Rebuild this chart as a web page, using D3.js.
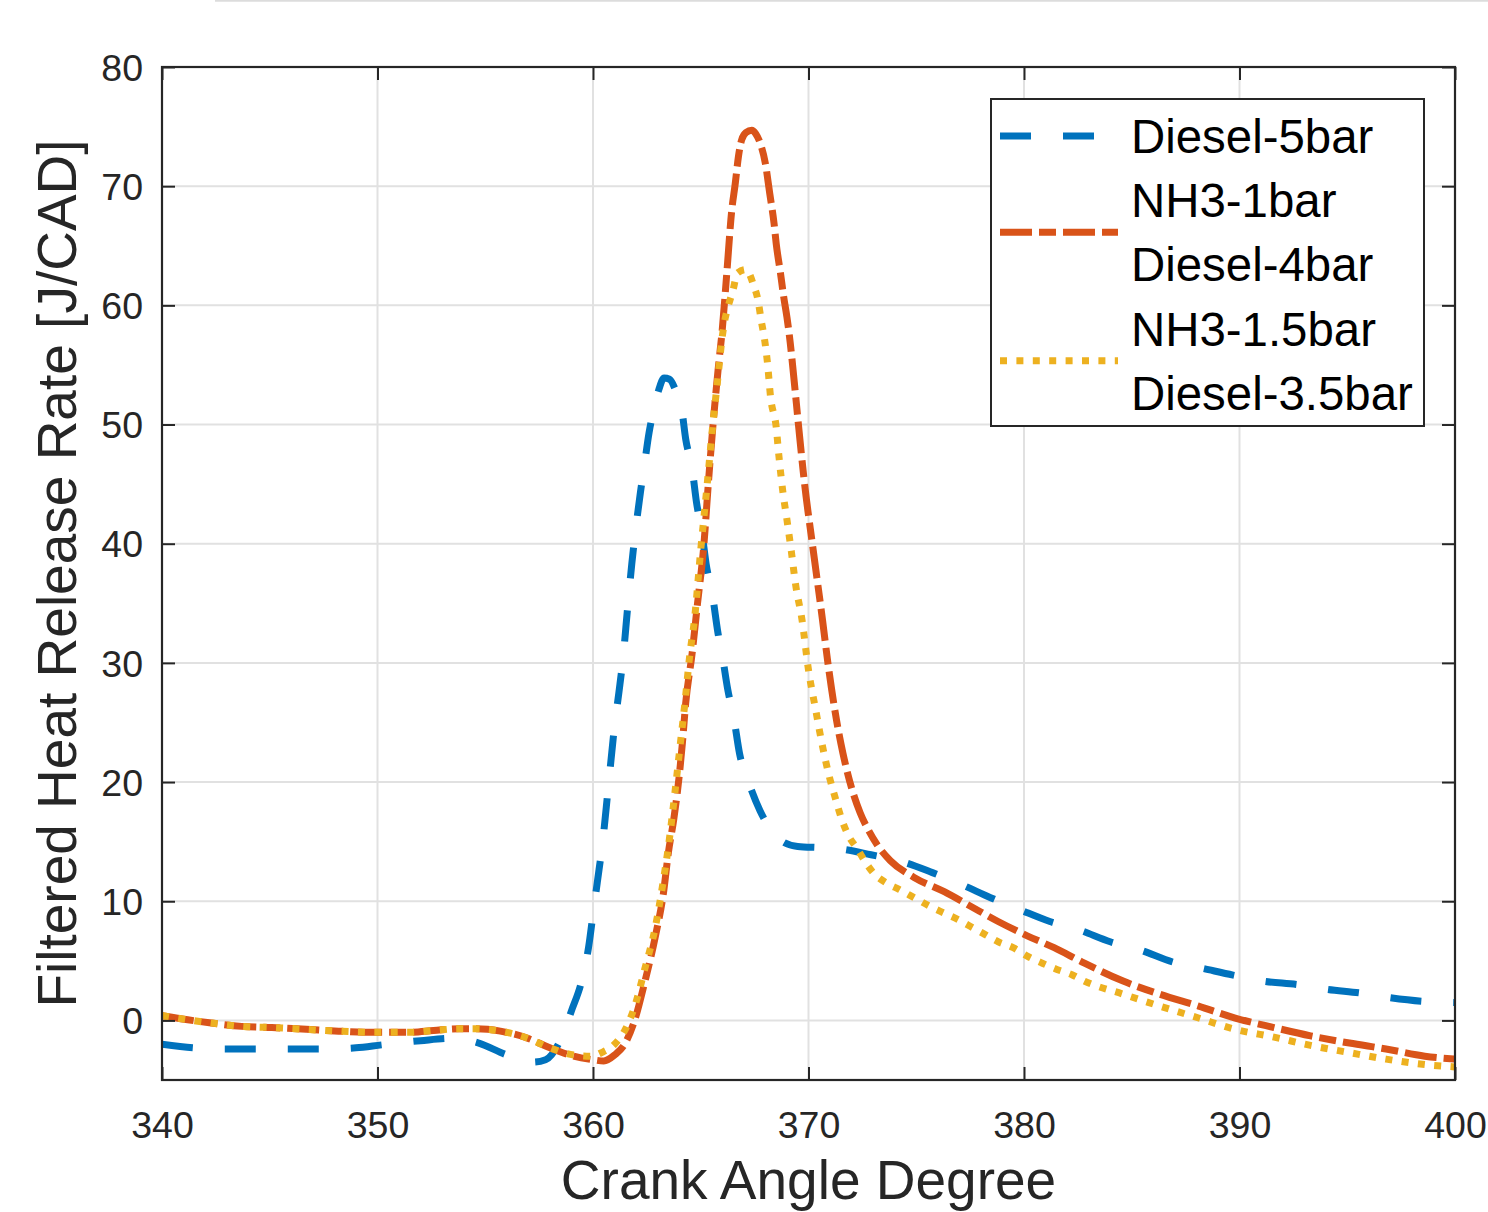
<!DOCTYPE html>
<html>
<head>
<meta charset="utf-8">
<script src="https://cdn.jsdelivr.net/npm/d3@7"></script>
<style>
  body { margin: 0; background: #fff; }
  svg { display: block; }
  text { font-family: "Liberation Sans", Arial, Helvetica, sans-serif; }
</style>
</head>
<body>
<svg id="chart" width="1488" height="1212"></svg>
<script>
// ---------- data ----------
const xTicks = [340, 350, 360, 370, 380, 390, 400];
const yTicks = [0, 10, 20, 30, 40, 50, 60, 70, 80];
const xTitle = "Crank Angle Degree";
const yTitle = "Filtered Heat Release Rate [J/CAD]";

const legendLabels = [["Diesel-5bar"], ["NH3-1bar", "Diesel-4bar"], ["NH3-1.5bar", "Diesel-3.5bar"]];

// Diesel-5bar
const d5Angle = [340, 341.5, 343, 345, 347.3, 349, 350.2, 352, 353.5, 354.7, 356, 357.2, 357.8, 358.5, 359, 359.5, 359.8, 360.0, 360.2, 360.45, 360.7, 361.0, 361.2, 361.4, 361.6, 361.8, 362.0, 362.2, 362.4, 362.6, 362.8, 363.05, 363.3, 363.55, 363.85, 364.1, 364.3, 364.6, 364.8, 365.05, 365.25, 365.55, 365.8, 366.0, 366.25, 366.55, 366.8, 367.2, 367.75, 368.3, 368.8, 369.5, 370.5, 371.4, 372.9, 374.3, 375.75, 377.1, 378.45, 379.8, 381.2, 382.55, 384, 385.4, 386.9, 388.2, 389.7, 391.1, 392.7, 394.1, 395.6, 397, 398.5, 400];
const d5Rate  = [-2.0, -2.3, -2.4, -2.4, -2.4, -2.3, -2.05, -1.7, -1.5, -1.9, -2.9, -3.5, -3.3, -1.6, 0.8, 3.5, 6.2, 8.9, 11.6, 15.0, 19.4, 24.7, 27.5, 30.5, 34.5, 38.3, 41.5, 44.3, 46.8, 49.3, 51.1, 52.9, 53.9, 53.8, 52.8, 51.5, 48.8, 46.3, 43.5, 41.0, 38.3, 35.6, 32.5, 30.6, 27.8, 25.2, 22.4, 20.1, 17.6, 15.9, 15.0, 14.6, 14.5, 14.4, 13.9, 13.35, 12.4, 11.4, 10.3, 9.3, 8.3, 7.6, 6.6, 5.9, 4.9, 4.4, 3.8, 3.3, 3.0, 2.6, 2.3, 1.9, 1.6, 1.5];

// NH3-1bar / Diesel-4bar
const n1Angle = [340, 342.2, 343.7, 345.1, 346.7, 348.2, 349.9, 351.5, 352.6, 353.8, 354.6, 355.7, 356.9, 358.0, 359.1, 360.0, 360.5, 361.0, 361.5, 361.95, 362.4, 362.9, 363.27, 363.5, 363.75, 364.0, 364.15, 364.3, 364.6, 364.85, 365.15, 365.35, 365.57, 365.8, 366.0, 366.2, 366.44, 366.6, 366.75, 366.9, 367.1, 367.37, 367.55, 367.76, 368.0, 368.2, 368.4, 368.5, 368.7, 368.85, 369.0, 369.15, 369.3, 369.56, 369.8, 370.2, 370.65, 370.9, 371.3, 371.6, 372.0, 372.4, 372.8, 373.2, 373.8, 374.9, 376.3, 377.5, 378.8, 380.15, 381.4, 382.7, 384.6, 386.3, 388.1, 389.8, 391.6, 393.3, 395.1, 396.8, 398.6, 400];
const n1Rate  = [0.4, -0.2, -0.5, -0.6, -0.75, -0.9, -1.0, -1.0, -0.85, -0.7, -0.7, -0.9, -1.45, -2.3, -3.0, -3.3, -3.4, -2.9, -1.9, 0.1, 3.2, 7.1, 10.7, 14.1, 16.9, 20.5, 23.3, 26.6, 30.8, 35.0, 40.0, 45.0, 50.0, 54.5, 58.0, 62.5, 68.0, 70.2, 72.5, 73.9, 74.5, 74.7, 74.4, 73.6, 71.9, 69.4, 66.9, 65.2, 62.7, 60.7, 59.0, 56.9, 54.3, 49.5, 45.3, 39.7, 33.6, 30.0, 25.2, 22.4, 19.5, 17.4, 15.9, 14.7, 13.4, 12.0, 10.8, 9.6, 8.3, 7.1, 6.1, 4.9, 3.3, 2.2, 1.2, 0.2, -0.6, -1.3, -1.9, -2.4, -3.0, -3.25];

// NH3-1.5bar / Diesel-3.5bar
const n15Angle = [340, 342.2, 343.7, 345.1, 346.7, 348.2, 349.9, 351.5, 352.6, 353.8, 354.6, 355.7, 356.9, 358.0, 359.1, 359.9, 360.4, 361.0, 361.5, 361.94, 362.4, 362.9, 363.27, 363.5, 363.8, 364.04, 364.28, 364.5, 364.7, 365.0, 365.3, 365.55, 365.8, 366.0, 366.1, 366.27, 366.5, 366.7, 367.1, 367.45, 367.66, 367.8, 367.98, 368.1, 368.24, 368.5, 368.63, 368.8, 369.0, 369.2, 369.4, 369.7, 370.0, 370.34, 370.65, 370.96, 371.27, 371.5, 371.8, 372.3, 372.6, 373.0, 373.65, 374.2, 374.9, 375.6, 376.3, 376.9, 377.5, 378.1, 378.8, 379.5, 380.15, 380.85, 381.5, 382.2, 382.8, 384.6, 386.3, 388.1, 389.8, 391.6, 393.3, 395.1, 396.8, 398.6, 400];
const n15Rate  = [0.4, -0.2, -0.5, -0.6, -0.75, -0.9, -1.0, -1.0, -0.85, -0.7, -0.7, -0.9, -1.45, -2.3, -2.9, -3.0, -2.7, -2.0, -0.75, 1.2, 4.3, 7.9, 11.8, 14.6, 19.1, 23.0, 26.9, 30.8, 33.5, 39.5, 45.0, 49.8, 54.0, 57.4, 58.6, 59.9, 61.3, 62.7, 63.0, 61.7, 60.4, 58.8, 56.9, 55.1, 52.3, 49.8, 47.3, 44.5, 42.0, 39.4, 36.6, 33.6, 29.4, 26.0, 23.0, 20.5, 18.5, 17.1, 15.7, 14.3, 13.4, 12.4, 11.5, 11.0, 10.3, 9.6, 9.0, 8.5, 7.9, 7.3, 6.6, 6.1, 5.4, 4.8, 4.3, 3.85, 3.3, 2.2, 1.2, 0.2, -0.75, -1.4, -2.1, -2.7, -3.25, -3.7, -3.9];

// ---------- drawing ----------
const svg = d3.select("#chart");
const W = 1488, H = 1212;
const pL = 162, pR = 1455, pT = 67, pB = 1080;
const x = d3.scaleLinear().domain([340, 400]).range([pL, pR]);
const y = d3.scaleLinear().domain([-5, 80]).range([pB, pT]);

const axisColor = "#262626";
const tickLen = 13;

// faint separator line at very top
svg.append("line").attr("x1", 215).attr("x2", W).attr("y1", 0.75).attr("y2", 0.75)
  .attr("stroke", "#dcdcdc").attr("stroke-width", 2);

// grid
const grid = svg.append("g");
grid.selectAll(".gx").data(xTicks).join("line")
  .attr("x1", d => x(d)).attr("x2", d => x(d)).attr("y1", pT).attr("y2", pB)
  .attr("stroke", "#e1e1e1").attr("stroke-width", 2);
grid.selectAll(".gy").data(yTicks).join("line")
  .attr("x1", pL).attr("x2", pR).attr("y1", d => y(d)).attr("y2", d => y(d))
  .attr("stroke", "#e1e1e1").attr("stroke-width", 2);

// series
const series = [
  { a: d5Angle, v: d5Rate, color: "#0072BD", dash: "31,32" },
  { a: n1Angle, v: n1Rate, color: "#D95319", dash: "32,7,17,7" },
  { a: n15Angle, v: n15Rate, color: "#EDB120", dash: "7,9.4" }
];
const line = d3.line().x(d => x(d[0])).y(d => y(d[1])).curve(d3.curveMonotoneX);
svg.append("clipPath").attr("id", "clip").append("rect")
  .attr("x", pL).attr("y", pT).attr("width", pR - pL).attr("height", pB - pT);
const plotG = svg.append("g").attr("clip-path", "url(#clip)");
series.forEach(s => {
  const pts = s.a.map((a, i) => [a, s.v[i]]);
  plotG.append("path").datum(pts).attr("d", line)
    .attr("fill", "none").attr("stroke", s.color).attr("stroke-width", 7)
    .attr("stroke-dasharray", s.dash).attr("stroke-linejoin", "round");
});

// axes
function styleAxis(g) {
  g.select(".domain").remove();
  g.selectAll(".tick line").attr("stroke", axisColor).attr("stroke-width", 2);
  g.selectAll(".tick text").attr("fill", axisColor).attr("font-size", 37.5)
    .attr("font-family", '"Liberation Sans", Arial, sans-serif');
}
svg.append("g").attr("transform", `translate(0,${pB})`)
  .call(d3.axisBottom(x).tickValues(xTicks).tickSizeInner(-tickLen).tickSizeOuter(0).tickPadding(31).tickFormat(d3.format("d")))
  .call(styleAxis);
svg.append("g").attr("transform", `translate(0,${pT})`)
  .call(d3.axisTop(x).tickValues(xTicks).tickSizeInner(-tickLen).tickSizeOuter(0).tickFormat(""))
  .call(styleAxis);
svg.append("g").attr("transform", `translate(${pL},0)`)
  .call(d3.axisLeft(y).tickValues(yTicks).tickSizeInner(-tickLen).tickSizeOuter(0).tickPadding(19).tickFormat(d3.format("d")))
  .call(styleAxis)
  .selectAll(".tick text").attr("dy", "0.35em");
svg.append("g").attr("transform", `translate(${pR},0)`)
  .call(d3.axisRight(y).tickValues(yTicks).tickSizeInner(-tickLen).tickSizeOuter(0).tickFormat(""))
  .call(styleAxis);

// frame
svg.append("rect").attr("x", pL).attr("y", pT).attr("width", pR - pL).attr("height", pB - pT)
  .attr("fill", "none").attr("stroke", axisColor).attr("stroke-width", 2.2);

// axis titles
svg.append("text").attr("x", (pL + pR) / 2).attr("y", 1199)
  .attr("text-anchor", "middle").attr("font-size", 55).attr("fill", axisColor).text(xTitle);
svg.append("text").attr("transform", `translate(76,${(pT + pB) / 2}) rotate(-90)`)
  .attr("text-anchor", "middle").attr("font-size", 55).attr("fill", axisColor).text(yTitle);

// legend
const lg = svg.append("g");
lg.append("rect").attr("x", 991).attr("y", 99).attr("width", 433).attr("height", 327)
  .attr("fill", "#fff").attr("stroke", axisColor).attr("stroke-width", 2);
const lineH = 64.2;
const firstBase = 153;
let row = 0;
legendLabels.forEach((lab, i) => {
  const base0 = firstBase + row * lineH;
  const n = lab.length;
  const centerY = base0 + (n - 1) * lineH / 2 - 17;
  lg.append("line").attr("x1", 1000).attr("x2", i === 0 ? 1095 : 1118)
    .attr("y1", centerY).attr("y2", centerY)
    .attr("stroke", series[i].color).attr("stroke-width", 7).attr("stroke-dasharray", series[i].dash);
  lab.forEach((t, k) => {
    lg.append("text").attr("x", 1131).attr("y", base0 + k * lineH)
      .attr("font-size", 47.4).attr("fill", "#000").text(t);
  });
  row += n;
});
</script>
</body>
</html>
